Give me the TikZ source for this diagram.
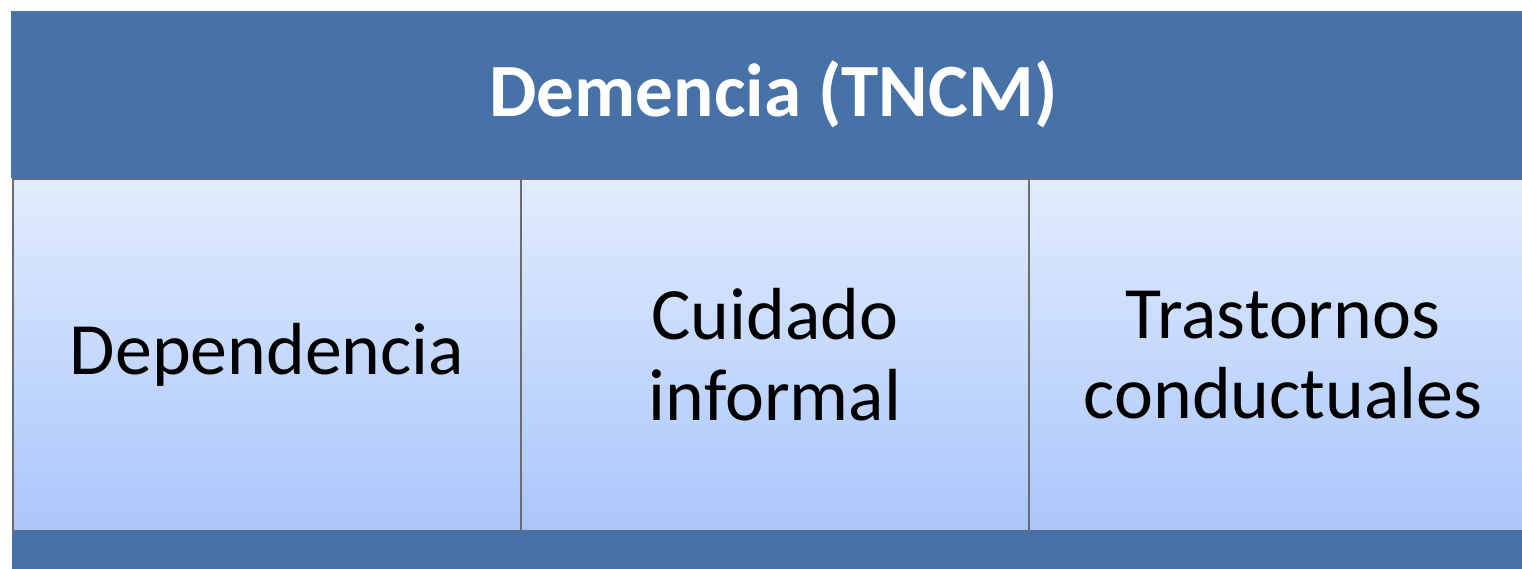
\documentclass[tikz,border=0pt]{standalone}
\usepackage{fontspec}
\setmainfont{Carlito}
\usepackage{tikz}
\usetikzlibrary{positioning}
\definecolor{band}{RGB}{70,114,168}
\definecolor{celltop}{RGB}{226,236,253}
\definecolor{cellbot}{RGB}{169,198,252}
\definecolor{edge}{RGB}{105,108,112}
\tikzset{
  % ---- bands ------------------------------------------------------------
  bandbox/.style={
    rectangle, fill=band, draw=none, text=white,
    font=\fontsize{21.4}{25}\selectfont\bfseries, align=center,
    minimum width=15.25cm, inner sep=0pt},
  % ---- cells ------------------------------------------------------------
  cell/.style={
    rectangle, top color=celltop, bottom color=cellbot, draw=edge,
    line width=0.6pt, text=black,
    font=\fontsize{21}{23}\selectfont, align=center,
    minimum width=5.08cm, minimum height=3.52cm, inner sep=0pt},
}
\begin{document}
\begin{tikzpicture}[x=1cm,y=1cm]
\useasboundingbox (0,0) rectangle (15.22,5.69);
\clip (0,0) rectangle (15.22,5.69);

% ---- title band -----------------------------------------------------------
\node[bandbox, minimum height=1.67cm] (title) at (7.735,4.745) {Demencia (TNCM)};

% ---- cells ----------------------------------------------------------------
\node[cell, anchor=north west] (dep) at (0.12,3.91) {Dependencia};
\node[cell, right=-0.6pt of dep] (cui) {Cuidado\\informal};
\node[cell, right=-0.6pt of cui] (tra) {Trastornos\\conductuales};

% ---- bottom band ----------------------------------------------------------
\node[bandbox, minimum height=0.9cm, anchor=north west] (foot) at (0.11,0.39) {};

\end{tikzpicture}
\end{document}
